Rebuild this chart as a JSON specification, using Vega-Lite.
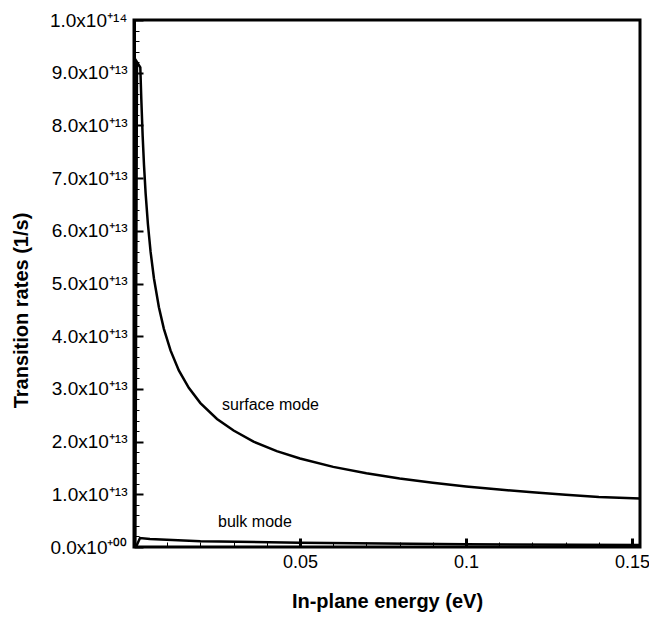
{
  "$schema": "https://vega.github.io/schema/vega-lite/v6.json",
  "width": 506,
  "height": 527,
  "autosize": {"type": "none"},
  "padding": {"left": 134, "top": 20, "right": 9, "bottom": 75},
  "background": "white",
  "config": {
    "font": "Liberation Sans",
    "view": {"stroke": "black", "strokeWidth": 3},
    "axis": {"grid": false, "domain": false, "labelColor": "black", "titleColor": "black", "tickColor": "black"}
  },
  "datasets": {
    "curves": [
      {"mode": "surface", "energy": 0.0004, "rate": 0.0},
      {"mode": "surface", "energy": 0.0009, "rate": 9.2},
      {"mode": "surface", "energy": 0.0019, "rate": 9.1},
      {"mode": "surface", "energy": 0.0022, "rate": 8.5},
      {"mode": "surface", "energy": 0.0026, "rate": 7.81},
      {"mode": "surface", "energy": 0.003, "rate": 7.26},
      {"mode": "surface", "energy": 0.0035, "rate": 6.71},
      {"mode": "surface", "energy": 0.0042, "rate": 6.12},
      {"mode": "surface", "energy": 0.005, "rate": 5.6},
      {"mode": "surface", "energy": 0.006, "rate": 5.1},
      {"mode": "surface", "energy": 0.0075, "rate": 4.55},
      {"mode": "surface", "energy": 0.009, "rate": 4.14},
      {"mode": "surface", "energy": 0.011, "rate": 3.73},
      {"mode": "surface", "energy": 0.0135, "rate": 3.35},
      {"mode": "surface", "energy": 0.0165, "rate": 3.02},
      {"mode": "surface", "energy": 0.02, "rate": 2.73},
      {"mode": "surface", "energy": 0.025, "rate": 2.43},
      {"mode": "surface", "energy": 0.03, "rate": 2.21},
      {"mode": "surface", "energy": 0.036, "rate": 2.0},
      {"mode": "surface", "energy": 0.043, "rate": 1.82},
      {"mode": "surface", "energy": 0.05, "rate": 1.68},
      {"mode": "surface", "energy": 0.06, "rate": 1.52},
      {"mode": "surface", "energy": 0.07, "rate": 1.4},
      {"mode": "surface", "energy": 0.08, "rate": 1.3},
      {"mode": "surface", "energy": 0.09, "rate": 1.22},
      {"mode": "surface", "energy": 0.1, "rate": 1.15},
      {"mode": "surface", "energy": 0.11, "rate": 1.09},
      {"mode": "surface", "energy": 0.12, "rate": 1.04},
      {"mode": "surface", "energy": 0.13, "rate": 0.99},
      {"mode": "surface", "energy": 0.14, "rate": 0.95},
      {"mode": "surface", "energy": 0.1524, "rate": 0.92},
      {"mode": "bulk", "energy": 0.0006, "rate": 0.0},
      {"mode": "bulk", "energy": 0.0018, "rate": 0.17},
      {"mode": "bulk", "energy": 0.0048, "rate": 0.15},
      {"mode": "bulk", "energy": 0.02, "rate": 0.11},
      {"mode": "bulk", "energy": 0.05, "rate": 0.08},
      {"mode": "bulk", "energy": 0.1, "rate": 0.05},
      {"mode": "bulk", "energy": 0.1524, "rate": 0.04}
    ],
    "labels": [
      {"label": "surface mode", "energy": 0.0265, "rate": 2.69},
      {"label": "bulk mode", "energy": 0.0253, "rate": 0.47}
    ]
  },
  "layer": [
    {
      "data": {"name": "curves"},
      "mark": {"type": "line", "color": "black", "strokeWidth": 2.5, "clip": true, "strokeJoin": "miter"},
      "encoding": {
        "x": {
          "field": "energy", "type": "quantitative",
          "scale": {"domain": [0, 0.1524], "nice": false, "zero": false},
          "axis": {
            "orient": "bottom",
            "title": "In-plane energy (eV)",
            "values": [0.05, 0.1, 0.15],
            "labelExpr": "format(datum.value, '~g')",
            "labelFontSize": 18, "labelPadding": 15,
            "tickSize": -9, "tickWidth": 3,
            "titleFontSize": 20, "titleFontWeight": "bold", "titlePadding": 20
          }
        },
        "y": {
          "field": "rate", "type": "quantitative",
          "scale": {"domain": [0, 10], "nice": false},
          "axis": {
            "orient": "left",
            "title": "Transition rates (1/s)",
            "values": [0, 1, 2, 3, 4, 5, 6, 7, 8, 9, 10],
            "labelExpr": "datum.value == 0 ? '0.0x10⁺⁰⁰' : (datum.value >= 9.99 ? '1.0x10⁺¹⁴' : format(datum.value, '.1f') + 'x10⁺¹³')",
            "labelFontSize": 19, "labelPadding": 16,
            "domain": true, "domainColor": "black", "domainWidth": 3,
            "tickSize": -9, "tickWidth": 2,
            "titleFontSize": 20, "titleFontWeight": "bold", "titlePadding": 18, "titleY": 290
          }
        },
        "detail": {"field": "mode", "type": "nominal"}
      }
    },
    {
      "data": {"name": "labels"},
      "mark": {"type": "text", "align": "left", "baseline": "middle", "fontSize": 16, "color": "black"},
      "encoding": {
        "x": {
          "field": "energy", "type": "quantitative",
          "axis": {
            "orient": "bottom", "title": null, "labels": false,
            "values": [0.01, 0.02, 0.03, 0.04, 0.06, 0.07, 0.08, 0.09, 0.11, 0.12, 0.13, 0.14],
            "tickSize": -5, "tickWidth": 1
          }
        },
        "y": {
          "field": "rate", "type": "quantitative",
          "axis": {
            "orient": "left", "title": null, "labels": false,
            "values": [0.2, 0.4, 0.6, 0.8, 1.2, 1.4, 1.6, 1.8, 2.2, 2.4, 2.6, 2.8, 3.2, 3.4, 3.6, 3.8, 4.2, 4.4, 4.6, 4.8, 5.2, 5.4, 5.6, 5.8, 6.2, 6.4, 6.6, 6.8, 7.2, 7.4, 7.6, 7.8, 8.2, 8.4, 8.6, 8.8, 9.2, 9.4, 9.6, 9.8],
            "tickSize": -5, "tickWidth": 1
          }
        },
        "text": {"field": "label", "type": "nominal"}
      }
    }
  ],
  "resolve": {"scale": {"x": "shared", "y": "shared"}, "axis": {"x": "independent", "y": "independent"}}
}
